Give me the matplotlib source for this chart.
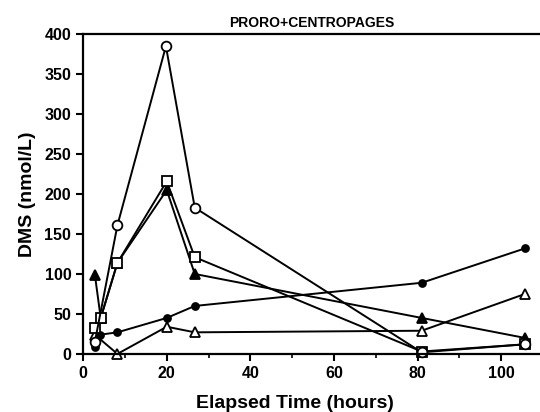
import matplotlib.pyplot as plt

plt.rcParams['font.family'] = ['Liberation Sans', 'DejaVu Sans']

# elapsed time (hours) and DMS (nmol/L) for each series
t_open_circle = [2.8, 8.2, 19.8, 26.7, 81, 105.7]
dms_open_circle = [15, 161, 385, 183, 2, 12]

t_open_square = [2.8, 4.2, 8.2, 20, 26.7, 81, 105.7]
dms_open_square = [33, 45, 114, 216, 121, 3, 12]

t_filled_tri = [2.8, 4.2, 8.2, 20, 26.7, 81, 105.7]
dms_filled_tri = [99, 45, 114, 205, 100, 45, 20]

t_filled_circle = [2.8, 4.0, 8.2, 20, 26.7, 81, 105.7]
dms_filled_circle = [9, 24, 27, 45, 60, 89, 132]

t_open_tri = [2.8, 8.2, 20, 26.7, 81, 105.7]
dms_open_tri = [24, 0, 34, 27, 29, 75]

x_ticks = [0, 20, 40, 60, 80, 100]
y_ticks = [0, 50, 100, 150, 200, 250, 300, 350, 400]


def plot_dms():
    fig = plt.figure(figsize=(5.4, 4.12), dpi=100)
    ax = fig.add_axes([0.154, 0.141, 0.846, 0.776])

    kw = dict(color="black", lw=1.4, mew=1.3, clip_on=False)
    ax.plot(t_open_tri, dms_open_tri, marker="^", mfc="white", ms=6.5, **kw)
    ax.plot(t_filled_circle, dms_filled_circle, marker="o", mfc="black", ms=5, **kw)
    ax.plot(t_filled_tri, dms_filled_tri, marker="^", mfc="black", ms=6.5, **kw)
    ax.plot(t_open_square, dms_open_square, marker="s", mfc="white", ms=6.5, **kw)
    ax.plot(t_open_circle, dms_open_circle, marker="o", mfc="white", ms=7, **kw)

    ax.set_xlim(0, 109.3)
    ax.set_ylim(0, 400)
    ax.set_xticks(x_ticks)
    ax.set_xticks(range(10, 110, 20), minor=True)
    ax.set_yticks(y_ticks)

    ax.spines["right"].set_visible(False)
    for s in ["left", "bottom", "top"]:
        ax.spines[s].set_linewidth(1.6)
    ax.tick_params(axis="both", which="major", direction="out", length=5, width=1.5, labelsize=11.5)
    ax.tick_params(axis="x", which="minor", direction="out", length=3, width=1.2)
    for lbl in ax.get_xticklabels() + ax.get_yticklabels():
        lbl.set_fontweight("bold")

    ax.set_xlabel("Elapsed Time (hours)", fontsize=14, fontweight="bold")
    ax.xaxis.set_label_coords(0.464, -0.128)
    ax.set_ylabel("DMS (nmol/L)", fontsize=14, fontweight="bold", labelpad=6)
    ax.set_title("PRORO+CENTROPAGES", fontsize=10, fontweight="bold", pad=5)

    fig.savefig("out.png", dpi=100)


if __name__ == "__main__":
    plot_dms()
